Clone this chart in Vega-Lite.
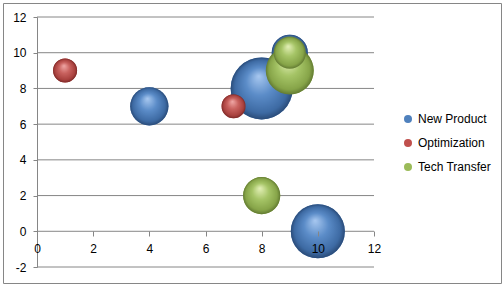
{
  "$schema": "https://vega.github.io/schema/vega-lite/v6.json",
  "autosize": "none",
  "width": 498,
  "height": 280,
  "padding": {"left": 3, "top": 3, "right": 3, "bottom": 4},
  "background": "white",
  "config": {
    "view": {"stroke": "#868686", "strokeWidth": 1},
    "font": "Liberation Sans",
    "axis": {"labelFont": "Liberation Sans", "labelFontSize": 12, "labelColor": "#000000", "domainColor": "#868686", "tickColor": "#868686", "grid": false, "title": null, "labelOverlap": false, "labelBound": false, "labelFlush": false}
  },
  "datasets": {
    "bubbles": [
      {"series": "New Product", "x": 4, "y": 7, "size": 3.8},
      {"series": "New Product", "x": 8, "y": 8, "size": 10},
      {"series": "New Product", "x": 9, "y": 10, "size": 3.4},
      {"series": "New Product", "x": 10, "y": 0, "size": 7.6},
      {"series": "Optimization", "x": 1, "y": 9, "size": 1.5},
      {"series": "Optimization", "x": 7, "y": 7, "size": 1.5},
      {"series": "Tech Transfer", "x": 8, "y": 2, "size": 3.6},
      {"series": "Tech Transfer", "x": 9, "y": 9, "size": 6},
      {"series": "Tech Transfer", "x": 9, "y": 10, "size": 2.7}
    ],
    "grid": [{"g": -2}, {"g": 0}, {"g": 2}, {"g": 4}, {"g": 6}, {"g": 8}, {"g": 10}, {"g": 12}]
  },
  "layer": [
    {
      "data": {"name": "grid"},
      "mark": {"type": "rule", "color": "#868686", "strokeWidth": 1},
      "encoding": {
        "y": {"field": "g", "type": "quantitative", "scale": {"domain": [-2, 12], "range": [264, 14], "nice": false, "zero": false},
              "axis": {"orient": "left", "offset": -34, "values": [-2, 0, 2, 4, 6, 8, 10, 12], "tickCount": 20, "tickSize": 4, "labelPadding": 7, "labelOverlap": false,
                       "labelExpr": "datum.value < 0 ? '-' + abs(datum.value) : '' + datum.value"}},
        "x": {"datum": 0, "type": "quantitative", "scale": {"domain": [0, 12], "range": [34, 371], "nice": false, "zero": false},
              "axis": {"orient": "bottom", "offset": -52, "values": [0, 2, 4, 6, 8, 10, 12], "tickCount": 20, "tickSize": 5, "labelPadding": 7, "domain": false, "zindex": 1, "labelOverlap": false,
                       "labelExpr": "'' + datum.value"}},
        "x2": {"datum": 12}
      }
    },
    {
      "data": {"name": "bubbles"},
      "mark": {"type": "circle", "opacity": 1},
      "encoding": {
        "x": {"field": "x", "type": "quantitative"},
        "y": {"field": "y", "type": "quantitative"},
        "size": {"field": "size", "type": "quantitative", "scale": {"domain": [0, 10], "range": [0, 3844], "zero": true}, "legend": null},
        "color": {"field": "series", "type": "nominal",
                  "scale": {"domain": ["New Product", "Optimization", "Tech Transfer"], "range": ["#4f81bd", "#c0504d", "#9bbb59"]},
                  "legend": {"title": null, "orient": "none", "legendX": 399, "legendY": 110, "symbolType": "circle", "symbolSize": 64, "labelFontSize": 12, "labelFont": "Liberation Sans", "labelColor": "#000000", "labelOffset": 4, "rowPadding": 12, "symbolStrokeWidth": 0}}
      }
    },
    {
      "data": {"name": "bubbles"},
      "transform": [{"filter": "datum.series === 'New Product'"}],
      "mark": {"type": "circle", "opacity": 1, "fill": {"gradient": "radial", "x1": 0.45, "y1": 0.3, "r1": 0, "x2": 0.5, "y2": 0.5, "r2": 0.5,
        "stops": [{"offset": 0, "color": "#a8c8f0"}, {"offset": 0.45, "color": "#5b8cc8"}, {"offset": 0.85, "color": "#3d6aa3"}, {"offset": 1, "color": "#2a4b78"}]}},
      "encoding": {
        "x": {"field": "x", "type": "quantitative"},
        "y": {"field": "y", "type": "quantitative"},
        "size": {"field": "size", "type": "quantitative", "legend": null}
      }
    },
    {
      "data": {"name": "bubbles"},
      "transform": [{"filter": "datum.series === 'Optimization'"}],
      "mark": {"type": "circle", "opacity": 1, "fill": {"gradient": "radial", "x1": 0.45, "y1": 0.3, "r1": 0, "x2": 0.5, "y2": 0.5, "r2": 0.5,
        "stops": [{"offset": 0, "color": "#f0a8a6"}, {"offset": 0.45, "color": "#c9625f"}, {"offset": 0.85, "color": "#a8403d"}, {"offset": 1, "color": "#7a2a28"}]}},
      "encoding": {
        "x": {"field": "x", "type": "quantitative"},
        "y": {"field": "y", "type": "quantitative"},
        "size": {"field": "size", "type": "quantitative", "legend": null}
      }
    },
    {
      "data": {"name": "bubbles"},
      "transform": [{"filter": "datum.series === 'Tech Transfer'"}],
      "mark": {"type": "circle", "opacity": 1, "fill": {"gradient": "radial", "x1": 0.45, "y1": 0.3, "r1": 0, "x2": 0.5, "y2": 0.5, "r2": 0.5,
        "stops": [{"offset": 0, "color": "#e4f0b8"}, {"offset": 0.45, "color": "#a5c466"}, {"offset": 0.85, "color": "#86a448"}, {"offset": 1, "color": "#627a32"}]}},
      "encoding": {
        "x": {"field": "x", "type": "quantitative"},
        "y": {"field": "y", "type": "quantitative"},
        "size": {"field": "size", "type": "quantitative", "legend": null}
      }
    }
  ]
}
